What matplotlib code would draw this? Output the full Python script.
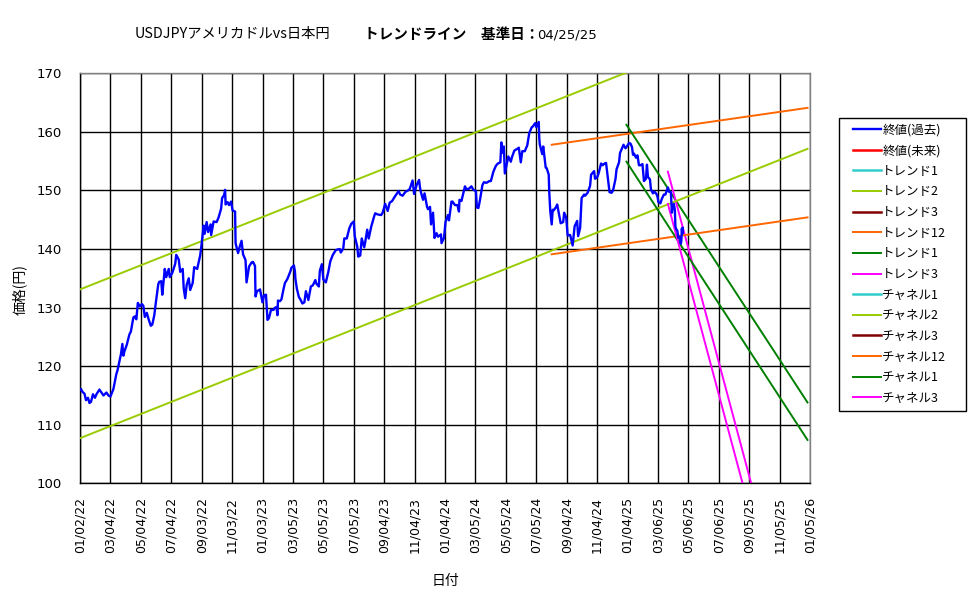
import matplotlib
matplotlib.use("Agg")
import matplotlib.pyplot as plt
from matplotlib.patches import Rectangle
import pandas as pd

plt.rcParams['font.family'] = ['Noto Sans CJK JP', 'DejaVu Sans']

# ---- data: USDJPY close ----
close_dates = [
 "2022-01-03","2022-01-04","2022-01-07","2022-01-11","2022-01-14","2022-01-18","2022-01-21","2022-01-24","2022-01-28",
 "2022-02-01","2022-02-04","2022-02-10","2022-02-14","2022-02-18","2022-02-24","2022-02-28","2022-03-04","2022-03-08",
 "2022-03-10","2022-03-14","2022-03-16","2022-03-18","2022-03-22","2022-03-25","2022-03-28","2022-03-30","2022-04-01",
 "2022-04-06","2022-04-11","2022-04-14","2022-04-19","2022-04-22","2022-04-25","2022-04-28","2022-05-02","2022-05-06",
 "2022-05-09","2022-05-12","2022-05-16","2022-05-20","2022-05-24","2022-05-27","2022-05-31","2022-06-03","2022-06-08",
 "2022-06-10","2022-06-14","2022-06-16","2022-06-21","2022-06-24","2022-06-29","2022-07-01","2022-07-06","2022-07-12",
 "2022-07-14","2022-07-19","2022-07-22","2022-07-27","2022-07-29","2022-08-01","2022-08-04","2022-08-08","2022-08-11",
 "2022-08-16","2022-08-19","2022-08-25","2022-08-31","2022-09-02","2022-09-07","2022-09-09","2022-09-13","2022-09-16",
 "2022-09-21","2022-09-22","2022-09-27","2022-10-03","2022-10-07","2022-10-12","2022-10-14","2022-10-18","2022-10-20",
 "2022-10-21","2022-10-25","2022-10-28","2022-11-01","2022-11-04","2022-11-09","2022-11-10","2022-11-15","2022-11-18",
 "2022-11-22","2022-11-25","2022-11-30","2022-12-02","2022-12-07","2022-12-12","2022-12-15","2022-12-19","2022-12-20",
 "2022-12-23","2022-12-29",
 "2023-01-03","2023-01-06","2023-01-10","2023-01-13","2023-01-16","2023-01-18","2023-01-20","2023-01-25","2023-01-27",
 "2023-01-31","2023-02-02","2023-02-03","2023-02-07","2023-02-10","2023-02-14","2023-02-17","2023-02-22","2023-02-28",
 "2023-03-02","2023-03-07","2023-03-09","2023-03-10","2023-03-13","2023-03-17","2023-03-20","2023-03-24","2023-03-28",
 "2023-03-31","2023-04-05","2023-04-10","2023-04-14","2023-04-19","2023-04-21","2023-04-26","2023-04-28","2023-05-02",
 "2023-05-05","2023-05-10","2023-05-15","2023-05-19","2023-05-24","2023-05-30","2023-06-02","2023-06-07","2023-06-09",
 "2023-06-14","2023-06-16","2023-06-21","2023-06-26","2023-06-30","2023-07-05","2023-07-07","2023-07-12","2023-07-14",
 "2023-07-18","2023-07-21","2023-07-26","2023-07-28","2023-08-01","2023-08-04","2023-08-09","2023-08-15","2023-08-17",
 "2023-08-22","2023-08-29","2023-09-01","2023-09-06","2023-09-11","2023-09-15","2023-09-20","2023-09-25","2023-09-29",
 "2023-10-03","2023-10-06","2023-10-11","2023-10-17","2023-10-20","2023-10-25","2023-10-31","2023-11-03","2023-11-08",
 "2023-11-13","2023-11-15","2023-11-17","2023-11-21","2023-11-24","2023-11-29","2023-12-01","2023-12-05","2023-12-07",
 "2023-12-11","2023-12-14","2023-12-18","2023-12-21","2023-12-27","2023-12-28",
 "2024-01-02","2024-01-05","2024-01-10","2024-01-12","2024-01-17","2024-01-19","2024-01-24","2024-01-29","2024-02-01",
 "2024-02-02","2024-02-06","2024-02-13","2024-02-16","2024-02-21","2024-02-26","2024-03-01","2024-03-06","2024-03-08",
 "2024-03-11","2024-03-14","2024-03-19","2024-03-22","2024-03-27","2024-04-02","2024-04-05","2024-04-10","2024-04-15",
 "2024-04-19","2024-04-24","2024-04-26","2024-04-29","2024-05-01","2024-05-03","2024-05-07","2024-05-10","2024-05-15",
 "2024-05-17","2024-05-22","2024-05-28","2024-05-31","2024-06-04","2024-06-07","2024-06-12","2024-06-17","2024-06-21",
 "2024-06-26","2024-06-28","2024-07-03","2024-07-05","2024-07-10","2024-07-11","2024-07-12","2024-07-17","2024-07-19",
 "2024-07-24","2024-07-26","2024-07-30","2024-07-31","2024-08-02","2024-08-05","2024-08-07","2024-08-09","2024-08-14",
 "2024-08-16","2024-08-21","2024-08-23","2024-08-28","2024-08-30","2024-09-03","2024-09-06","2024-09-11","2024-09-16",
 "2024-09-18","2024-09-20","2024-09-25","2024-09-27","2024-10-01","2024-10-04","2024-10-09","2024-10-11","2024-10-16",
 "2024-10-21","2024-10-23","2024-10-29","2024-10-31","2024-11-04","2024-11-07","2024-11-12","2024-11-15","2024-11-19",
 "2024-11-22","2024-11-27","2024-11-29","2024-12-03","2024-12-06","2024-12-11","2024-12-13","2024-12-18","2024-12-20",
 "2024-12-24","2024-12-27","2024-12-31",
 "2025-01-02","2025-01-07","2025-01-10","2025-01-13","2025-01-15","2025-01-17","2025-01-21","2025-01-24","2025-01-27",
 "2025-01-30","2025-02-03","2025-02-06","2025-02-10","2025-02-12","2025-02-14","2025-02-18","2025-02-20","2025-02-24",
 "2025-02-27","2025-03-03","2025-03-05","2025-03-07","2025-03-11","2025-03-14","2025-03-18","2025-03-21","2025-03-26",
 "2025-03-28","2025-04-01","2025-04-03","2025-04-04","2025-04-07","2025-04-09","2025-04-10","2025-04-11","2025-04-14",
 "2025-04-16","2025-04-18","2025-04-21","2025-04-22","2025-04-23","2025-04-24","2025-04-25",
]
close_values = [
 116.0,116.1,115.6,115.3,114.2,114.6,113.7,113.9,115.2,
 114.6,115.2,116.0,115.5,115.0,115.5,115.0,114.8,115.7,
 116.1,117.8,118.7,119.2,120.8,122.0,123.8,121.8,122.5,
 123.7,125.4,125.9,128.3,128.5,128.0,130.8,130.2,130.6,
 130.3,128.4,129.1,127.9,126.9,127.1,128.7,130.8,134.0,
 134.4,134.5,132.2,136.6,135.2,136.6,135.2,135.9,137.5,
 139.0,138.2,136.1,136.6,133.3,131.6,133.9,135.0,133.0,
 134.2,136.9,136.6,138.9,140.2,144.0,142.6,144.6,142.9,
 144.2,142.4,144.7,144.6,145.4,146.9,148.7,149.2,150.1,
 147.6,148.0,147.5,148.1,146.6,146.4,141.0,139.3,140.3,
 141.4,139.1,138.1,134.3,137.0,137.7,137.8,137.1,131.9,
 132.8,133.1,
 130.9,132.1,132.2,127.9,128.2,128.9,129.6,129.6,129.9,
 130.1,128.7,131.2,131.1,131.4,133.1,134.2,134.9,136.2,
 136.8,137.2,136.2,134.9,133.2,131.8,131.4,130.7,130.9,
 132.8,131.3,133.6,133.8,134.7,134.1,133.6,136.3,137.4,
 134.8,134.3,136.1,137.9,139.0,139.8,139.9,140.0,139.4,
 140.1,141.8,141.8,143.5,144.3,144.7,142.2,140.4,138.7,
 138.9,141.8,140.3,141.2,143.3,141.8,143.8,145.6,146.1,
 145.9,145.8,146.2,147.7,146.5,147.9,148.2,148.9,149.4,
 149.9,149.3,149.1,149.8,149.9,150.2,151.7,149.4,150.9,
 151.8,150.4,149.6,148.4,149.5,147.2,146.8,147.2,144.2,
 146.2,141.9,142.7,142.1,142.5,141.0,
 141.9,144.6,145.8,144.9,148.1,148.1,147.5,147.5,146.4,
 148.4,148.2,150.7,150.2,150.3,150.7,150.1,149.9,147.1,
 147.0,148.3,150.9,151.4,151.3,151.6,151.6,153.2,154.2,
 154.6,154.8,158.2,156.4,157.5,152.9,154.6,155.8,154.9,
 155.6,156.8,157.1,157.3,154.8,156.7,156.7,157.7,159.8,
 160.8,160.9,161.5,160.8,161.7,159.0,157.9,156.2,157.5,
 153.9,153.8,152.7,149.9,146.6,144.2,146.7,146.6,147.2,
 147.6,145.3,144.4,144.6,146.2,145.4,142.3,142.4,140.6,
 142.3,143.9,144.8,142.2,143.6,148.7,149.3,149.1,149.6,
 150.8,152.7,153.3,152.0,152.2,152.9,154.6,154.3,154.6,
 154.7,151.1,149.7,149.6,150.0,152.0,153.6,154.8,156.4,
 157.2,157.8,157.2,
 157.4,158.1,158.0,157.4,156.1,156.3,155.6,156.0,154.3,
 154.3,154.5,151.6,152.0,154.4,152.3,151.9,150.2,149.5,
 149.8,149.4,149.0,148.0,147.8,148.6,149.3,149.3,150.5,
 149.8,149.7,146.2,146.9,147.7,146.6,144.0,143.5,143.1,
 141.9,142.1,140.9,141.4,143.5,142.6,143.6,
]

# ---- trend / channel lines: (start date, start value, end date, end value) ----
trend2_dates = ["2022-01-02", "2025-12-31"];  trend2_values = [133.1, 182.4]
chan2_dates = ["2022-01-02", "2025-12-31"];   chan2_values = [107.7, 157.1]
trend12_dates = ["2024-08-05", "2025-12-31"]; trend12_values = [157.8, 164.1]
chan12_dates = ["2024-08-05", "2025-12-31"];  chan12_values = [139.1, 145.4]
trend1_dates = ["2025-01-02", "2025-12-31"];  trend1_values = [161.2, 113.8]
chan1_dates = ["2025-01-02", "2025-12-31"];   chan1_values = [154.9, 107.4]
trend3_dates = ["2025-03-26", "2025-12-31"];  trend3_values = [153.2, 64.0]
chan3_dates = ["2025-03-26", "2025-12-31"];   chan3_values = [147.7, 58.5]

x_tick_labels = ["01/02/22","03/04/22","05/04/22","07/04/22","09/03/22","11/03/22","01/03/23","03/05/23",
                 "05/05/23","07/05/23","09/04/23","11/04/23","01/04/24","03/05/24","05/05/24","07/05/24",
                 "09/04/24","11/04/24","01/04/25","03/06/25","05/06/25","07/06/25","09/05/25","11/05/25","01/05/26"]
y_ticks = [100, 110, 120, 130, 140, 150, 160, 170]

C_BLUE = "#0000FF"; C_RED = "#FF0000"; C_CYAN = "#33CCCC"; C_YG = "#99CC00"
C_DRED = "#800000"; C_ORANGE = "#FF6600"; C_GREEN = "#008000"; C_MAG = "#FF00FF"

W, H = 975, 599
fig = plt.figure(figsize=(W/100, H/100), dpi=100)
ax = fig.add_axes([80/W, 1-483.3/H, 730/W, 410/H])

def d(lst):
    return pd.to_datetime(lst)

lw_t = 1.4
ax.plot(d(close_dates), close_values, color=C_BLUE, lw=1.7, label="終値(過去)", zorder=5)
ax.plot([], [], color=C_RED, lw=1.8, label="終値(未来)")
ax.plot([], [], color=C_CYAN, lw=1.8, label="トレンド1")
ax.plot(d(trend2_dates), trend2_values, color=C_YG, lw=lw_t, label="トレンド2", zorder=4)
ax.plot([], [], color=C_DRED, lw=1.8, label="トレンド3")
ax.plot(d(trend12_dates), trend12_values, color=C_ORANGE, lw=lw_t, label="トレンド12", zorder=4)
ax.plot(d(trend1_dates), trend1_values, color=C_GREEN, lw=lw_t, label="トレンド1", zorder=4)
ax.plot(d(trend3_dates), trend3_values, color=C_MAG, lw=lw_t, label="トレンド3", zorder=4)
ax.plot([], [], color=C_CYAN, lw=1.8, label="チャネル1")
ax.plot(d(chan2_dates), chan2_values, color=C_YG, lw=lw_t, label="チャネル2", zorder=4)
ax.plot([], [], color=C_DRED, lw=1.8, label="チャネル3")
ax.plot(d(chan12_dates), chan12_values, color=C_ORANGE, lw=lw_t, label="チャネル12", zorder=4)
ax.plot(d(chan1_dates), chan1_values, color=C_GREEN, lw=lw_t, label="チャネル1", zorder=4)
ax.plot(d(chan3_dates), chan3_values, color=C_MAG, lw=lw_t, label="チャネル3", zorder=4)

xt = pd.to_datetime(x_tick_labels, format="%m/%d/%y")
ax.set_xlim(xt[0], xt[-1])
ax.set_ylim(100, 170)
ax.set_xticks(xt)
ax.set_xticklabels(x_tick_labels, rotation=90, fontsize=9, family=['DejaVu Sans'])
ax.set_yticks(y_ticks)
ax.set_yticklabels([str(v) for v in y_ticks], fontsize=9.5, family=['DejaVu Sans'])
ax.tick_params(axis='x', length=0, pad=10, colors='black')
ax.tick_params(axis='y', length=0, pad=13, colors='black')
ax.grid(True, color='black', lw=1.0)
ax.set_axisbelow(True)
for s in ax.spines.values():
    s.set_color('black'); s.set_linewidth(1.0)
ax.spines['top'].set_color('#808080')
ax.spines['right'].set_color('#808080')

fig.text(20/W, 1-290/H, "価格(円)", rotation=90, ha='center', va='center', fontsize=10)
fig.text(445/W, 1-581/H, "日付", ha='center', va='center', fontsize=10)

fig.text(135/W, 1-34/H, "USDJPYアメリカドルvs日本円", ha='left', va='center', fontsize=10.3)
fig.text(364/W, 1-34/H, "トレンドライン　基準日：", ha='left', va='center', fontsize=10.5, fontweight='bold')
fig.text(537/W, 1-35/H, "04/25/25", ha='left', va='center', fontsize=9.5, family=['DejaVu Sans'])

# legend box drawn explicitly, entries placed inside
fig.patches.append(Rectangle((839/W, 1-410.7/H), 127/W, 292.5/H, transform=fig.transFigure,
                             facecolor='white', edgecolor='black', lw=1.0, zorder=1))
leg = fig.legend(loc='upper left', bbox_to_anchor=(853/W, 1-123.5/H), fontsize=9,
                 frameon=False, handlelength=2.24, handletextpad=0.1,
                 labelspacing=0.61, borderpad=0, borderaxespad=0)
leg.set_zorder(2)

fig.savefig("out.png", dpi=100, facecolor='white')
